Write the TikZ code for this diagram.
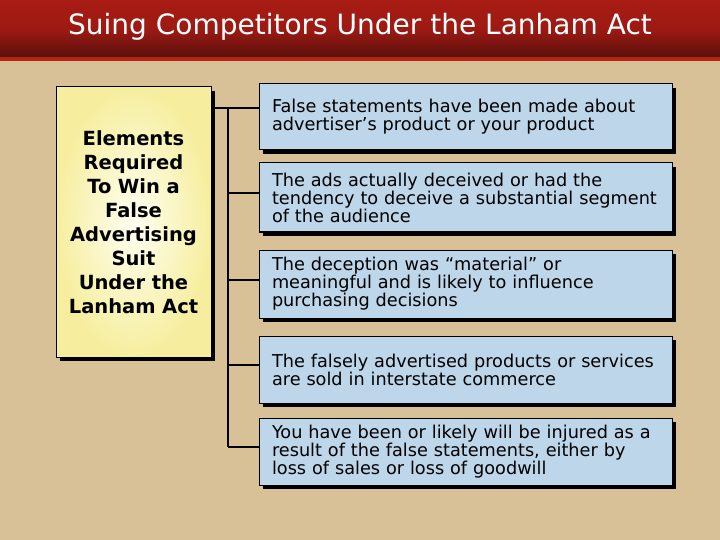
\documentclass[tikz,border=0pt]{standalone}
\usepackage{fontspec}
\setmainfont{DejaVu Sans}
\usetikzlibrary{shadows}
\definecolor{tanbg}{HTML}{D8C196}
\definecolor{titletop}{HTML}{A81C14}
\definecolor{titlebot}{HTML}{5A0F0C}
\definecolor{stripe}{HTML}{B32515}
\definecolor{boxblue}{HTML}{BED6EA}
\definecolor{boxyellow}{HTML}{F6EE9E}
\definecolor{boxyelin}{HTML}{FFFFF2}
\tikzset{
  shad/.style={general shadow={fill=black, shadow xshift=4pt, shadow yshift=-4pt}},
  bluebox/.style={shad, draw=black, line width=1pt, fill=boxblue, text width=387pt,
    inner xsep=13pt, inner ysep=0pt, align=left, font=\fontsize{17.7}{18}\selectfont,
    minimum height=66pt, anchor=center},
  yelbox/.style={shad, draw=black, line width=1pt, inner color=boxyelin, outer color=boxyellow,
    minimum width=155pt, minimum height=270pt, text width=150pt, align=center,
    font=\bfseries\fontsize{19.5}{24}\selectfont, inner sep=0pt},
  conn/.style={draw=black, line width=1.5pt}
}
\begin{document}
\begin{tikzpicture}[x=1pt,y=-1pt]
\useasboundingbox (0,0) rectangle (720,540);
\fill[tanbg] (0,0) rectangle (720,540);
\shade[top color=titletop, bottom color=titlebot, middle color=titletop!85!titlebot] (0,0) rectangle (720,58);
\fill[stripe] (0,57) rectangle (720,61);
\node[text=white, font=\fontsize{28}{28}\selectfont] (title) at (360,27) {Suing Competitors Under the Lanham Act};

\node[yelbox] (lead) at (133.5,222) {Elements\\Required\\To Win a\\False\\Advertising\\Suit\\Under the\\Lanham Act};

\node[bluebox, minimum height=66pt] (b1) at (465.5,117) {False statements have been made about\\advertiser’s product or your product};
\node[bluebox, minimum height=69pt] (b2) at (465.5,197.5) {The ads actually deceived or had the\\tendency to deceive a substantial segment\\of the audience};
\node[bluebox, minimum height=68pt] (b3) at (465.5,284) {The deception was “material” or\\meaningful and is likely to influence\\purchasing decisions};
\node[bluebox, minimum height=67pt] (b4) at (465.5,369.5) {The falsely advertised products or services\\are sold in interstate commerce};
\node[bluebox, minimum height=67pt] (b5) at (465.5,451.5) {You have been or likely will be injured as a\\result of the false statements, either by\\loss of sales or loss of goodwill};

\coordinate (trunk) at (228,108);
\draw[conn] (lead.east |- trunk) -- (b1.west |- trunk);
\draw[conn] (trunk) -- (trunk |- 0,447);
\draw[conn] (trunk |- 0,193) -- (b2.west |- 0,193);
\draw[conn] (trunk |- 0,280) -- (b3.west |- 0,280);
\draw[conn] (trunk |- 0,365) -- (b4.west |- 0,365);
\draw[conn] (trunk |- 0,447) -- (b5.west |- 0,447);
\end{tikzpicture}
\end{document}
